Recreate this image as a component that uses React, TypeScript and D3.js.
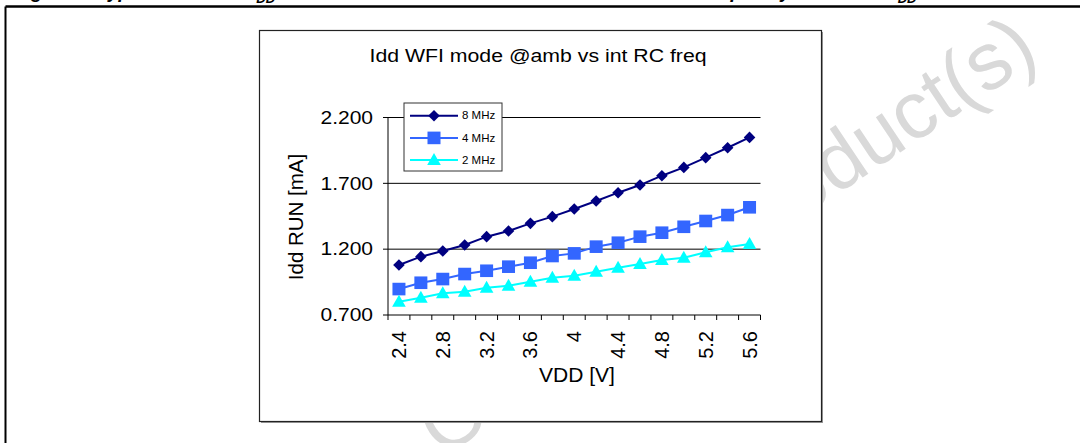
import * as d3 from "d3";

const vdd = ["2.4", "2.6", "2.8", "3", "3.2", "3.4", "3.6", "3.8", "4", "4.2", "4.4", "4.6", "4.8", "5", "5.2", "5.4", "5.6"];
const labelEvery = 2;

const idd8 = [1.08, 1.143, 1.186, 1.232, 1.295, 1.338, 1.396, 1.447, 1.505, 1.566, 1.629, 1.687, 1.758, 1.821, 1.895, 1.97, 2.049];
const idd4 = [0.897, 0.945, 0.973, 1.011, 1.036, 1.067, 1.097, 1.148, 1.168, 1.219, 1.249, 1.295, 1.325, 1.37, 1.414, 1.459, 1.518];
const idd2 = [0.801, 0.831, 0.865, 0.877, 0.907, 0.922, 0.953, 0.983, 0.998, 1.029, 1.059, 1.087, 1.118, 1.135, 1.176, 1.214, 1.239];

const yTicks = [0.7, 1.2, 1.7, 2.2];

const series = [
  { name: "8 MHz", values: idd8, color: "#000080", marker: "diamond" },
  { name: "4 MHz", values: idd4, color: "#3366ff", marker: "square" },
  { name: "2 MHz", values: idd2, color: "#00ffff", marker: "triangle" },
];

const FONT = "Arial, 'Liberation Sans', sans-serif";

function Marker({ kind, x, y, color }: { kind: string; x: number; y: number; color: string }) {
  if (kind === "diamond") {
    const r = 5.8;
    return <path d={`M${x},${y - r}L${x + r},${y}L${x},${y + r}L${x - r},${y}Z`} fill={color} />;
  }
  if (kind === "square") {
    return <rect x={x - 6.5} y={y - 6.3} width={13} height={12.6} fill={color} />;
  }
  return <path d={`M${x},${y - 7}L${x + 6.8},${y + 5}L${x - 6.8},${y + 5}Z`} fill={color} />;
}

export default function App() {
  const width = 1080;
  const height = 443;
  const plot = { left: 388, right: 760.5, top: 117.5, bottom: 315 };

  const x = d3.scaleBand<string>().domain(vdd).range([plot.left, plot.right]).padding(0);
  const bw = x.bandwidth();
  const cx = (c: string) => (x(c) as number) + bw / 2;
  const y = d3.scaleLinear().domain([0.7, 2.2]).range([plot.bottom, plot.top]);
  const fmt = d3.format(".3f");

  const line = d3.line<number>()
    .x((_, i) => cx(vdd[i]))
    .y(d => y(d));

  const tickXs = vdd.map(c => x(c) as number).concat([plot.right]);

  const legend = { x: 404, y: 103, w: 98, h: 68, row: 22.2 };

  return (
    <svg width={width} height={height} style={{ position: "fixed", left: 0, top: 0, background: "#fff" }}>
      {/* caption, cut off by the top edge */}
      <g fontFamily={FONT} fontWeight={700} fontStyle="italic" fontSize={19} fill="#000">
        <text x={14} y={-2.5}>Figure 23.</text>
        <text x={97} y={-2.5}>Typical</text>
        <text x={251} y={-2.5}>I<tspan fontSize={13} dy={5.5}>DD</tspan></text>
        <text x={700} y={-2.5}>frequency</text>
        <text x={885} y={-2.5}>V<tspan fontSize={13} dy={5.5}>DD</tspan></text>
      </g>

      {/* watermark */}
      <text
        transform="translate(442,458) rotate(-33.7)"
        fontFamily={FONT}
        fontSize={81}
        fill="#d9d9d9"
      >
        Obsolete Product(s)
      </text>

      {/* outer frame */}
      <line x1={5.5} x2={width} y1={6.5} y2={6.5} stroke="#000" strokeWidth={2.5} />
      <line x1={5.5} x2={5.5} y1={6.5} y2={height} stroke="#000" strokeWidth={2} />

      {/* chart box */}
      <rect x={261} y={32} width={562} height={391} fill="#9a9a9a" />
      <rect x={259.5} y={30.5} width={562} height={391} fill="#fff" stroke="#222" strokeWidth={1.2} />

      <g transform="translate(538,62) scale(1.15,1)">
        <text textAnchor="middle" fontFamily={FONT} fontSize={18.5} fill="#000">
          Idd WFI mode @amb vs int RC freq
        </text>
      </g>

      {/* grid + axes */}
      {yTicks.map(t => (
        <g key={t}>
          {t > 0.7 && (
            <line x1={plot.left} x2={plot.right} y1={y(t)} y2={y(t)} stroke="#000" strokeWidth={1} />
          )}
          <line x1={plot.left - 5} x2={plot.left} y1={y(t)} y2={y(t)} stroke="#000" />
          <g transform={`translate(373,${y(t) + 6.3}) scale(1.2,1)`}>
            <text textAnchor="end" fontFamily={FONT} fontSize={17.5} fill="#000">{fmt(t)}</text>
          </g>
        </g>
      ))}
      <line x1={plot.left} x2={plot.left} y1={plot.top} y2={plot.bottom} stroke="#000" />
      <line x1={plot.left} x2={plot.right} y1={plot.bottom} y2={plot.bottom} stroke="#000" />
      {tickXs.map((tx, i) => (
        <line key={i} x1={tx} x2={tx} y1={plot.bottom} y2={plot.bottom + 5} stroke="#000" />
      ))}
      {vdd.map((c, i) =>
        i % labelEvery === 0 ? (
          <text
            key={c}
            transform={`translate(${cx(c) + 7},331) rotate(-90)`}
            textAnchor="end"
            fontFamily={FONT}
            fontSize={20}
            fill="#000"
          >
            {c}
          </text>
        ) : null
      )}

      <text x={577} y={382} textAnchor="middle" fontFamily={FONT} fontSize={21} fill="#000">VDD [V]</text>
      <text
        transform="translate(303,217) rotate(-90)"
        textAnchor="middle"
        fontFamily={FONT}
        fontSize={20.5}
        fill="#000"
      >
        Idd RUN [mA]
      </text>

      {/* series */}
      {series.map(s => (
        <g key={s.name}>
          <path d={line(s.values) ?? ""} fill="none" stroke={s.color} strokeWidth={2} />
          {s.values.map((v, i) => (
            <Marker key={i} kind={s.marker} x={cx(vdd[i])} y={y(v)} color={s.color} />
          ))}
        </g>
      ))}

      {/* legend */}
      <rect x={legend.x} y={legend.y} width={legend.w} height={legend.h} fill="#fff" stroke="#333" strokeWidth={1} />
      {series.map((s, i) => {
        const ly = legend.y + 12.7 + i * legend.row;
        return (
          <g key={s.name}>
            <line x1={410} x2={458} y1={ly} y2={ly} stroke={s.color} strokeWidth={2} />
            <Marker kind={s.marker} x={434} y={ly} color={s.color} />
            <g transform={`translate(462,${ly + 3.6}) scale(1.15,1)`}>
              <text fontFamily={FONT} fontSize={10} fill="#000">{s.name}</text>
            </g>
          </g>
        );
      })}
    </svg>
  );
}
